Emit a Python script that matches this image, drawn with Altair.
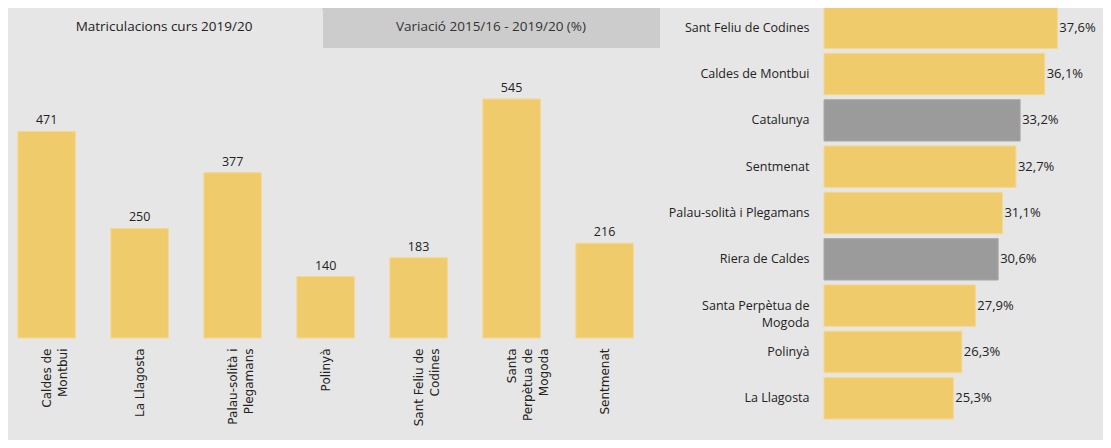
import altair as alt
import pandas as pd

# ---------------- data ----------------
tabs = ["Matriculacions curs 2019/20", "Variació 2015/16 - 2019/20 (%)"]

mun_left = ["Caldes de|Montbui", "La Llagosta", "Palau-solità i|Plegamans", "Polinyà",
            "Sant Feliu de|Codines", "Santa|Perpètua de|Mogoda", "Sentmenat"]
matric = [471, 250, 377, 140, 183, 545, 216]

mun_right = ["Sant Feliu de Codines", "Caldes de Montbui", "Catalunya", "Sentmenat",
             "Palau-solità i Plegamans", "Riera de Caldes", "Santa Perpètua de|Mogoda",
             "Polinyà", "La Llagosta"]
variacio = [37.6, 36.1, 33.2, 32.7, 31.1, 30.6, 27.9, 26.3, 25.3]
tipus = ["municipi", "municipi", "agregat", "municipi", "municipi", "agregat",
         "municipi", "municipi", "municipi"]

# ---------------- styles ----------------
BG = "#e6e6e6"
TAB_OFF = "#cccccc"
YEL = "#f0cb6b"
YEL_S = "#f4d88e"
GREY = "#9b9b9b"
GREY_S = "#ababab"
TXT = "#222222"
FONT = "Open Sans"

df_left = pd.DataFrame({"m": mun_left, "v": matric})
df_right = pd.DataFrame({
    "m": mun_right,
    "v": variacio,
    "tipus": tipus,
    "lab": [f"{v:.1f}".replace(".", ",") + "%" for v in variacio],
})
df_tab1 = pd.DataFrame({"tab": [tabs[0]]})
df_tab2 = pd.DataFrame({"tab": [tabs[1]]})

WL, HL = 652, 335
WR, HR = 279, 432

# ---------------- left panel ----------------
xl = alt.X(
    "m:N", sort=mun_left,
    scale=alt.Scale(paddingInner=0.382, paddingOuter=0.1965, align=0.27),
    axis=alt.Axis(
        title=None, labelExpr="split(datum.label, '|')", labelAngle=270,
        labelAlign="right", labelBaseline="middle", labelFont="DejaVu Sans",
        labelFontSize=12, labelColor=TXT, labelPadding=10, labelLineHeight=16,
        ticks=False, domain=False, labelLimit=200,
    ),
)
yl = alt.Y("v:Q", scale=alt.Scale(domain=[0, 764], nice=False, zero=True), axis=None)

base_l = alt.Chart(df_left)
bars_l = base_l.mark_bar(color=YEL, stroke=YEL_S, strokeWidth=1).encode(x=xl, y=yl)
text_l = base_l.mark_text(baseline="bottom", dy=-4, font=FONT, fontSize=12.5,
                          color=TXT).encode(x=xl, y=yl, text="v:Q")

tab_bar = alt.Chart(df_tab2).mark_rect(color=TAB_OFF).encode(
    x=alt.value(0), x2=alt.value(WL), y=alt.value(0), y2=alt.value(45))
tab_on = alt.Chart(df_tab1).mark_rect(color=BG, cornerRadiusTopRight=5).encode(
    x=alt.value(0), x2=alt.value(315), y=alt.value(3), y2=alt.value(45))
tab_t1 = alt.Chart(df_tab1).mark_text(font=FONT, fontSize=13.5, color=TXT,
                                      baseline="middle").encode(
    x=alt.value(156), y=alt.value(24), text="tab:N")
tab_t2 = alt.Chart(df_tab2).mark_text(font=FONT, fontSize=13.5, color="#333333",
                                      baseline="middle").encode(
    x=alt.value(483), y=alt.value(24), text="tab:N")

left = alt.layer(tab_bar, tab_on, tab_t1, tab_t2, bars_l, text_l).properties(
    width=WL, height=HL)

# ---------------- right panel ----------------
yr = alt.Y(
    "m:N", sort=mun_right,
    scale=alt.Scale(paddingInner=0.106, paddingOuter=0.216, align=0.2),
    axis=alt.Axis(
        title=None, labelExpr="split(datum.label, '|')", labelFont=FONT,
        labelFontSize=12.5, labelColor=TXT, labelPadding=15, labelLineHeight=17,
        ticks=False, domain=False, labelLimit=300,
    ),
)
xr = alt.X("v:Q", scale=alt.Scale(domain=[10, 43], nice=False, zero=False), axis=None)

base_r = alt.Chart(df_right)
bars_r = base_r.mark_bar(strokeWidth=1).encode(
    y=yr, x=xr, x2=alt.datum(10),
    color=alt.Color("tipus:N", scale=alt.Scale(domain=["municipi", "agregat"],
                                               range=[YEL, GREY]), legend=None),
    stroke=alt.Stroke("tipus:N", scale=alt.Scale(domain=["municipi", "agregat"],
                                                 range=[YEL_S, GREY_S]), legend=None),
)
text_r = base_r.mark_text(align="left", baseline="middle", dx=2, font=FONT,
                          fontSize=13, color=TXT).encode(y=yr, x=xr, text="lab:N")

right = alt.layer(bars_r, text_r).properties(width=WR, height=HR)

chart = alt.hconcat(left, right, spacing=164, bounds="flush").properties(
    padding={"top": -5, "bottom": 5, "left": 0, "right": 0}, background=BG
).configure_view(stroke=None)

chart.save("out.html", embed_options={"renderer": "svg", "actions": False})
